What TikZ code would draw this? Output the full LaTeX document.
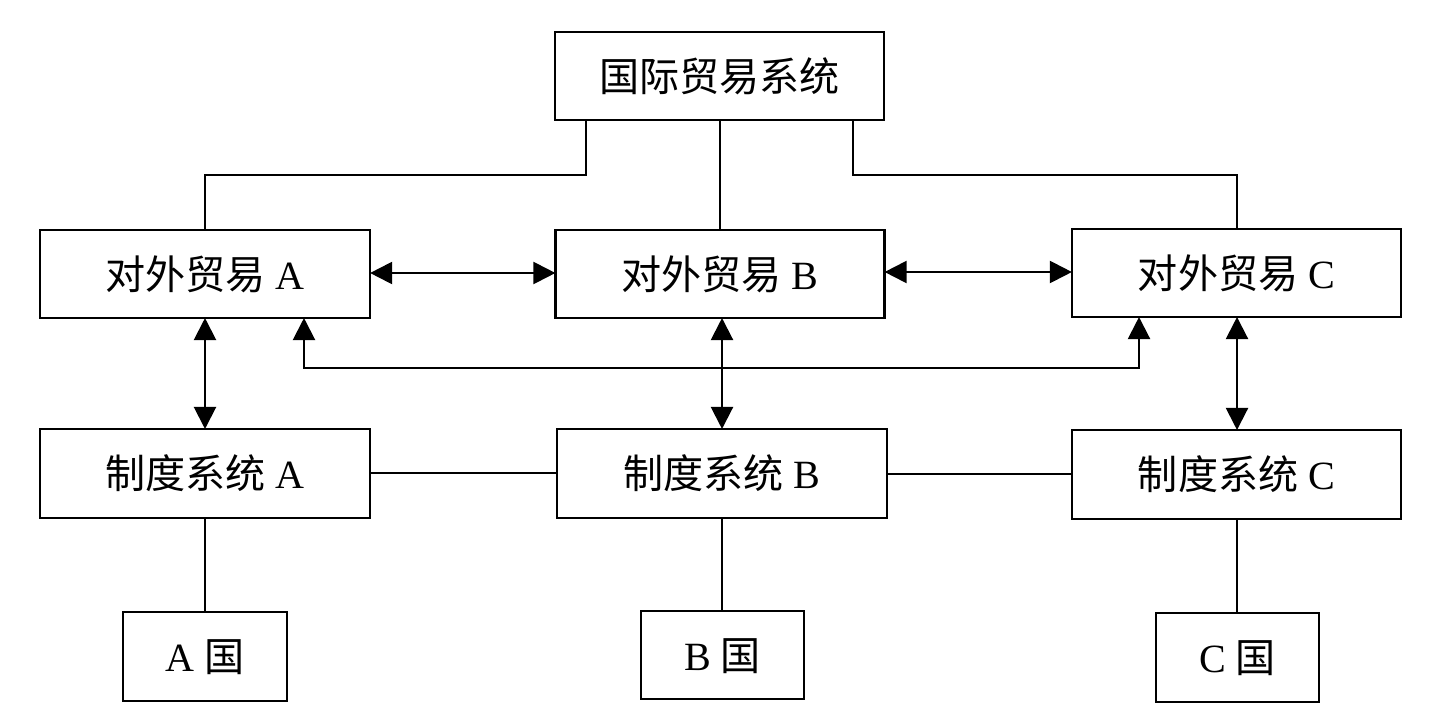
\documentclass[tikz,border=0pt]{standalone}
\usepackage{fontspec}
\setmainfont{Liberation Serif}
\newfontfamily\cjk{Noto Sans CJK SC}
\usetikzlibrary{arrows.meta}
\tikzset{
  bx/.style={draw, line width=0.7pt, rectangle, inner sep=0pt, outer sep=0pt,
    font=\fontsize{11.4}{14}\selectfont, text height=0.33cm, text depth=0.03cm},
  ln/.style={line width=0.5pt},
  dbl/.style={line width=0.6pt, {Triangle[length=0.22cm,width=0.22cm]}-{Triangle[length=0.22cm,width=0.22cm]}},
}
\newcommand{\zh}[1]{{\cjk #1}}
\begin{document}
\begin{tikzpicture}[x=0.01cm,y=-0.01cm]
\useasboundingbox (0,0) rectangle (1446,718);
% boxes
\node[bx, minimum width=3.29cm, minimum height=0.88cm] (top) at (719.5,76) {\zh{国际贸易系统}};
\node[bx, minimum width=3.30cm, minimum height=0.88cm] (fA) at (205,274) {\zh{对外贸易} A};
\node[bx, minimum width=3.29cm, minimum height=0.88cm] (fB) at (720,274) {\zh{对外贸易} B};
\node[bx, minimum width=3.29cm, minimum height=0.88cm] (fC) at (1236.5,273) {\zh{对外贸易} C};
\node[bx, minimum width=3.30cm, minimum height=0.89cm] (zA) at (205,473.5) {\zh{制度系统} A};
\node[bx, minimum width=3.30cm, minimum height=0.89cm] (zB) at (722,473.5) {\zh{制度系统} B};
\node[bx, minimum width=3.29cm, minimum height=0.89cm] (zC) at (1236.5,474.5) {\zh{制度系统} C};
\node[bx, minimum width=1.64cm, minimum height=0.89cm] (cA) at (205,656.5) {A \zh{国}};
\node[bx, minimum width=1.63cm, minimum height=0.88cm] (cB) at (722.5,655) {B \zh{国}};
\node[bx, minimum width=1.63cm, minimum height=0.89cm] (cC) at (1237.5,657.5) {C \zh{国}};
% coordinates
\coordinate (tl) at (586,120);
\coordinate (tr) at (853,120);
\coordinate (lowL) at (304,368);
\coordinate (lowR) at (1139,368);
% top connectors
\draw[ln] (tl) |- (205,175) -- (fA.north -| 205,0);
\draw[ln] (top.south -| 720,0) -- (fB.north -| 720,0);
\draw[ln] (tr) |- (1237,175) -- (fC.north -| 1237,0);
% horizontal double arrows
\draw[dbl] (fA.east |- 0,273) -- (fB.west |- 0,273);
\draw[dbl] (fB.east |- 0,272) -- (fC.west |- 0,272);
% vertical double arrows
\draw[dbl] (fA.south -| 205,0) -- (zA.north -| 205,0);
\draw[dbl] (fB.south -| 722,0) -- (zB.north -| 722,0);
\draw[dbl] (fC.south -| 1237,0) -- (zC.north -| 1237,0);
% lower loop
\draw[dbl] (fA.south -| lowL) -- (lowL) -- (lowR) -- (fC.south -| lowR);
% institution links
\draw[ln] (zA.east |- 0,473) -- (zB.west |- 0,473);
\draw[ln] (zB.east |- 0,474) -- (zC.west |- 0,474);
% countries
\draw[ln] (zA.south -| 205,0) -- (cA.north -| 205,0);
\draw[ln] (zB.south -| 722,0) -- (cB.north -| 722,0);
\draw[ln] (zC.south -| 1237,0) -- (cC.north -| 1237,0);
\end{tikzpicture}
\end{document}
